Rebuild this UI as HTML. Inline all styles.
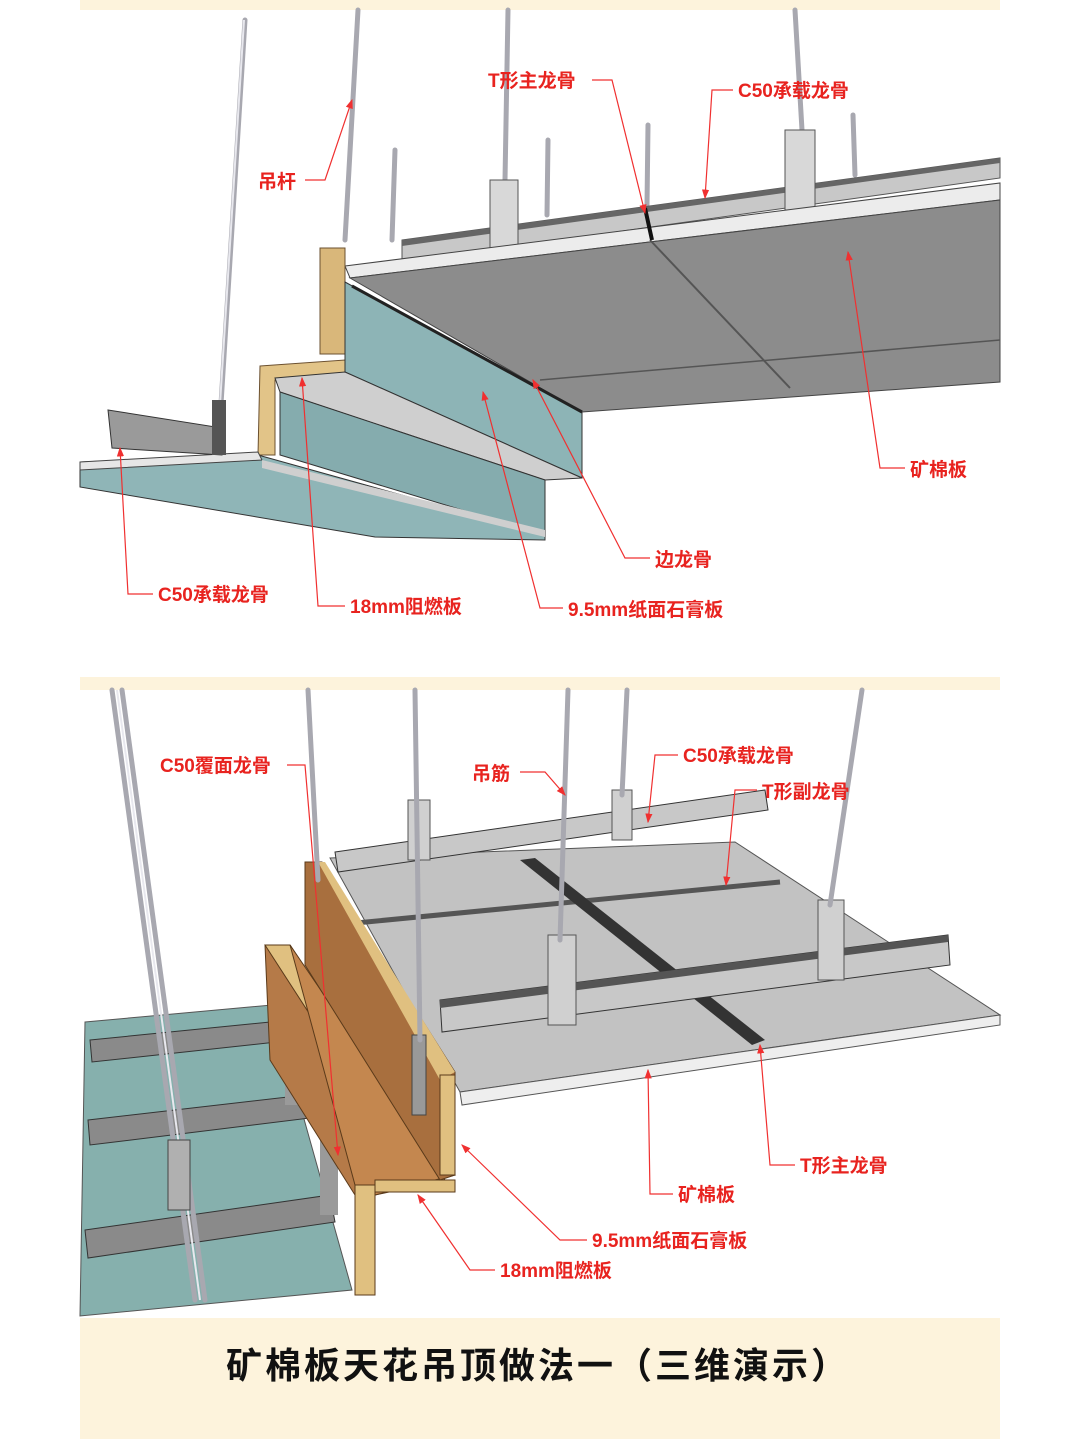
<!DOCTYPE html>
<html><head><meta charset="utf-8"><style>
html,body{margin:0;padding:0;background:#fff}
svg{display:block}
.l{font-family:"Liberation Sans","Noto Sans CJK SC",sans-serif;font-weight:bold;font-size:19px;fill:#e8231f}
.k{stroke:#f03030;stroke-width:1.2;fill:none}
.r{stroke:#a8a8b0;stroke-width:5;stroke-linecap:round}
.r2{stroke:#e8e8ee;stroke-width:2}
</style></head><body>
<svg width="1080" height="1439" viewBox="0 0 1080 1439" xmlns="http://www.w3.org/2000/svg">
<defs><marker id="a" markerWidth="8" markerHeight="8" refX="7" refY="4" orient="auto"><path d="M0,1 L8,4 L0,7 z" fill="#f03030"/></marker></defs>
<rect x="80" y="0" width="920" height="10" fill="#fdf3dc"/>
<rect x="80" y="677" width="920" height="13" fill="#fdf3dc"/>
<rect x="80" y="1318" width="920" height="121" fill="#fdf3dc"/>

<!-- TOP rods -->
<g>
<line class="r" x1="245" y1="20" x2="220" y2="420"/><line class="r2" x1="244" y1="20" x2="219" y2="420"/>
<line class="r" x1="358" y1="10" x2="345" y2="240"/>
<line class="r" x1="395" y1="150" x2="392" y2="240"/>
<line class="r" x1="508" y1="10" x2="505" y2="180"/>
<line class="r" x1="548" y1="140" x2="547" y2="215"/>
<line class="r" x1="648" y1="125" x2="647" y2="205"/>
<line class="r" x1="795" y1="10" x2="802" y2="130"/>
<line class="r" x1="853" y1="115" x2="855" y2="175"/>
</g>
<!-- rear channel -->
<polygon points="402,240 1000,158 1000,178 402,262" fill="#c8c8c8" stroke="#555" stroke-width="1"/>
<polygon points="402,240 1000,158 1000,163 402,246" fill="#666"/>
<!-- hangers -->
<rect x="490" y="180" width="28" height="70" fill="#d8d8d8" stroke="#555"/>
<rect x="785" y="130" width="30" height="80" fill="#d8d8d8" stroke="#555"/>
<!-- white edge slab -->
<polygon points="345,266 1000,183 1000,200 350,278" fill="#ececec" stroke="#444"/>
<!-- gray ceiling -->
<polygon points="350,278 1000,200 1000,382 582,412" fill="#8c8c8c" stroke="#444"/>
<line x1="650" y1="240" x2="790" y2="388" stroke="#555" stroke-width="2"/>
<line x1="540" y1="380" x2="1000" y2="340" stroke="#555" stroke-width="1.5"/>
<line x1="645" y1="208" x2="652" y2="240" stroke="#111" stroke-width="4"/>
<!-- wood -->
<rect x="320" y="248" width="25" height="106" fill="#d9b77a" stroke="#6b5030"/>
<polygon points="260,366 345,360 345,376 275,380 275,455 258,455" fill="#e2c488" stroke="#6b5030"/>
<!-- teal panels -->
<polygon points="345,282 582,412 582,478 345,372" fill="#8db4b6" stroke="#333"/>
<line x1="352" y1="286" x2="582" y2="412" stroke="#222" stroke-width="3"/>
<polygon points="275,378 345,372 582,478 545,480 280,392" fill="#cfcfcf" stroke="#333"/>
<polygon points="280,392 545,480 545,535 280,455" fill="#85acae" stroke="#333"/>
<polygon points="80,462 258,455 545,535 545,540 375,537 80,487" fill="#8fb5b7" stroke="#333"/>
<polygon points="80,462 258,452 262,460 80,470" fill="#e6e6e6" stroke="#444"/>
<polygon points="262,460 545,530 545,537 262,468" fill="#cfcfcf"/>
<!-- left C50 -->
<polygon points="108,410 222,428 222,455 112,448" fill="#9a9a9a" stroke="#333"/>
<rect x="212" y="400" width="14" height="55" fill="#555"/>

<!-- TOP labels -->
<text class="l" x="488" y="87">T形主龙骨</text>
<path class="k" d="M592,80 L612,80 L645,213" marker-end="url(#a)"/>
<text class="l" x="738" y="97">C50承载龙骨</text>
<path class="k" d="M733,90 L712,90 L705,198" marker-end="url(#a)"/>
<text class="l" x="258" y="188">吊杆</text>
<path class="k" d="M305,180 L325,180 L352,100" marker-end="url(#a)"/>
<text class="l" x="910" y="476">矿棉板</text>
<path class="k" d="M905,468 L880,468 L848,252" marker-end="url(#a)"/>
<text class="l" x="655" y="566">边龙骨</text>
<path class="k" d="M650,558 L625,558 L533,380" marker-end="url(#a)"/>
<text class="l" x="158" y="601">C50承载龙骨</text>
<path class="k" d="M153,594 L128,594 L120,448" marker-end="url(#a)"/>
<text class="l" x="350" y="613">18mm阻燃板</text>
<path class="k" d="M345,606 L318,606 L302,378" marker-end="url(#a)"/>
<text class="l" x="568" y="616">9.5mm纸面石膏板</text>
<path class="k" d="M563,608 L540,608 L483,392" marker-end="url(#a)"/>

<!-- BOTTOM -->
<!-- left teal floor -->
<polygon points="85,1022 272,1005 352,1290 80,1316" fill="#86b0ad" stroke="#555"/>
<g fill="#8a8a8a" stroke="#333">
<polygon points="90,1040 290,1020 295,1040 92,1062"/>
<polygon points="88,1120 305,1095 310,1118 90,1145"/>
<polygon points="85,1230 330,1195 335,1222 88,1258"/>
</g>
<polygon points="285,1010 300,1008 300,1105 285,1105" fill="#9a9a9a"/>
<polygon points="320,1130 338,1128 338,1215 320,1215" fill="#9a9a9a"/>
<!-- floor gray plane -->
<polygon points="330,858 735,842 1000,1015 460,1092" fill="#c2c2c2" stroke="#555"/>
<polygon points="460,1092 1000,1015 1000,1025 462,1105" fill="#eee" stroke="#555"/>
<line x1="335" y1="925" x2="780" y2="882" stroke="#555" stroke-width="5"/>
<polygon points="520,860 535,858 765,1040 752,1045" fill="#333"/>
<!-- channels -->
<polygon points="335,852 765,790 768,810 338,872" fill="#c8c8c8" stroke="#333"/>
<polygon points="440,1000 948,935 950,965 442,1032" fill="#c8c8c8" stroke="#333"/>
<polygon points="440,1000 948,935 948,942 440,1008" fill="#555"/>
<!-- hangers -->
<rect x="408" y="800" width="22" height="60" fill="#d0d0d0" stroke="#555"/>
<rect x="612" y="790" width="20" height="50" fill="#d0d0d0" stroke="#555"/>
<rect x="548" y="935" width="28" height="90" fill="#d0d0d0" stroke="#555"/>
<rect x="818" y="900" width="26" height="80" fill="#d0d0d0" stroke="#555"/>
<!-- wood lower trough -->
<polygon points="265,945 290,945 445,1180 375,1195 375,1295 355,1295 355,1195 270,1060" fill="#b57a48" stroke="#5a3a1a"/>
<polygon points="265,945 290,945 445,1180 420,1185" fill="#e0c080" stroke="#5a3a1a"/>
<polygon points="290,945 440,1165 455,1175 375,1195 355,1185" fill="#c4874f" stroke="#5a3a1a"/>
<rect x="355" y="1185" width="20" height="110" fill="#e0c080" stroke="#5a3a1a"/>
<rect x="375" y="1180" width="80" height="12" fill="#e0c080" stroke="#5a3a1a"/>
<!-- wood upper board -->
<polygon points="305,862 322,862 455,1072 455,1175 440,1180 305,965" fill="#a86f3e" stroke="#5a3a1a"/>
<polygon points="318,862 325,862 455,1072 440,1080" fill="#e0c080"/>
<rect x="440" y="1075" width="15" height="100" fill="#e0c080" stroke="#5a3a1a"/>
<rect x="412" y="1035" width="14" height="80" fill="#999" stroke="#444"/>
<!-- rods -->
<g>
<line class="r" x1="112" y1="690" x2="195" y2="1300"/><line class="r" x1="122" y1="690" x2="205" y2="1300"/><line class="r2" x1="117" y1="690" x2="200" y2="1300"/>
<line class="r" x1="308" y1="690" x2="318" y2="880"/>
<line class="r" x1="415" y1="690" x2="420" y2="1040"/>
<line class="r" x1="568" y1="690" x2="560" y2="940"/>
<line class="r" x1="627" y1="690" x2="622" y2="795"/>
<line class="r" x1="862" y1="690" x2="830" y2="905"/>
</g>
<rect x="168" y="1140" width="22" height="70" fill="#b0b0b0" stroke="#444"/>

<!-- BOTTOM labels -->
<text class="l" x="160" y="772">C50覆面龙骨</text>
<path class="k" d="M287,765 L305,765 L338,1155" marker-end="url(#a)"/>
<text class="l" x="472" y="780">吊筋</text>
<path class="k" d="M520,772 L545,772 L565,795" marker-end="url(#a)"/>
<text class="l" x="683" y="762">C50承载龙骨</text>
<path class="k" d="M678,755 L655,755 L648,822" marker-end="url(#a)"/>
<text class="l" x="762" y="798">T形副龙骨</text>
<path class="k" d="M757,790 L735,790 L726,885" marker-end="url(#a)"/>
<text class="l" x="800" y="1172">T形主龙骨</text>
<path class="k" d="M795,1165 L770,1165 L760,1045" marker-end="url(#a)"/>
<text class="l" x="678" y="1201">矿棉板</text>
<path class="k" d="M673,1194 L650,1194 L648,1070" marker-end="url(#a)"/>
<text class="l" x="592" y="1247">9.5mm纸面石膏板</text>
<path class="k" d="M587,1240 L560,1240 L462,1145" marker-end="url(#a)"/>
<text class="l" x="500" y="1277">18mm阻燃板</text>
<path class="k" d="M495,1270 L470,1270 L418,1195" marker-end="url(#a)"/>

<text x="538" y="1378" text-anchor="middle" font-family="'Liberation Sans','Noto Sans CJK SC',sans-serif" font-weight="bold" font-size="36" letter-spacing="3" fill="#111">矿棉板天花吊顶做法一（三维演示）</text>
</svg>
</body></html>
